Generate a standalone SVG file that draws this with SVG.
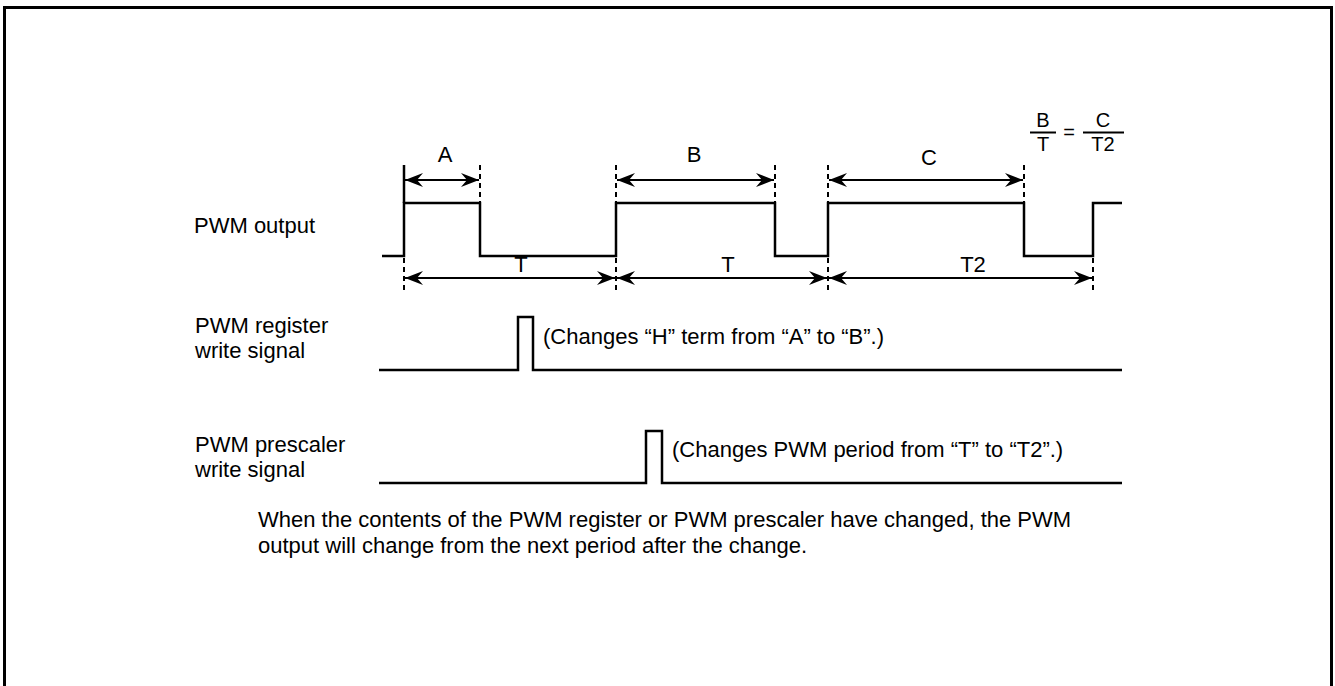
<svg xmlns="http://www.w3.org/2000/svg" width="1335" height="686" viewBox="0 0 1335 686">
<defs>
<style>
text{font-family:"Liberation Sans",Arial,sans-serif;font-size:22px;fill:#000}
.c{text-anchor:middle}
.f{font-size:20px}
.w{fill:none;stroke:#000;stroke-width:2.5}
.d{fill:none;stroke:#000;stroke-width:2;stroke-dasharray:5 4}
.a{fill:none;stroke:#000;stroke-width:2;marker-start:url(#ah);marker-end:url(#ah)}
</style>
<marker id="ah" viewBox="0 0 18 14" refX="18" refY="7" markerWidth="18" markerHeight="14" markerUnits="userSpaceOnUse" orient="auto-start-reverse">
<path d="M18,7 L0,0 L6,7 L0,14 Z" fill="#000"/>
</marker>
</defs>
<rect x="4.5" y="7.5" width="1327" height="700" fill="#fff" stroke="#000" stroke-width="3"/>
<g id="labels">
<text x="194" y="233">PWM output</text>
<text x="195" y="333">PWM register</text>
<text x="195" y="358">write signal</text>
<text x="195" y="452">PWM prescaler</text>
<text x="195" y="477">write signal</text>
</g>
<g id="pwm-output">
<path class="w" d="M382,256 H404 V203 H480 V256 H616 V203 H775 V256 H828 V203 H1024 V256 H1093 V203 H1122"/>
</g>
<g id="register-write">
<path class="w" d="M379,370 H518 V317 H533 V370 H1122"/>
<text x="543" y="344">(Changes “H” term from “A” to “B”.)</text>
</g>
<g id="prescaler-write">
<path class="w" d="M379,483 H646 V431 H662 V483 H1122"/>
<text x="672" y="457">(Changes PWM period from “T” to “T2”.)</text>
</g>
<g id="connectors">
<line x1="404" y1="165" x2="404" y2="203" stroke="#000" stroke-width="2.5"/>
<path class="d" d="M404,258 V294 M480,165 V203 M616,165 V203 M616,258 V294 M775,165 V203 M828,165 V203 M828,258 V294 M1024,165 V203 M1093,258 V294"/>
<line class="a" x1="405" y1="180" x2="479" y2="180"/>
<line class="a" x1="617" y1="180" x2="774" y2="180"/>
<line class="a" x1="829" y1="180" x2="1023" y2="180"/>
<line class="a" x1="405" y1="278" x2="615" y2="278"/>
<line class="a" x1="617" y1="278" x2="827" y2="278"/>
<line class="a" x1="829" y1="278" x2="1092" y2="278"/>
</g>
<g id="dim-labels">
<text class="c" x="445" y="162">A</text>
<text class="c" x="694" y="162">B</text>
<text class="c" x="929" y="165">C</text>
<text class="c" x="521" y="272">T</text>
<text class="c" x="728" y="272">T</text>
<text class="c" x="973" y="272">T2</text>
</g>
<g id="formula">
<text class="c f" x="1043" y="127">B</text>
<line x1="1030" y1="132.5" x2="1056" y2="132.5" stroke="#000" stroke-width="2"/>
<text class="c f" x="1043" y="151">T</text>
<text class="c f" x="1069" y="139">=</text>
<text class="c f" x="1103" y="127">C</text>
<line x1="1083" y1="132.5" x2="1124" y2="132.5" stroke="#000" stroke-width="2"/>
<text class="c f" x="1103" y="151">T2</text>
</g>
<g id="note">
<text x="258" y="527">When the contents of the PWM register or PWM prescaler have changed, the PWM</text>
<text x="258" y="553">output will change from the next period after the change.</text>
</g>
</svg>
